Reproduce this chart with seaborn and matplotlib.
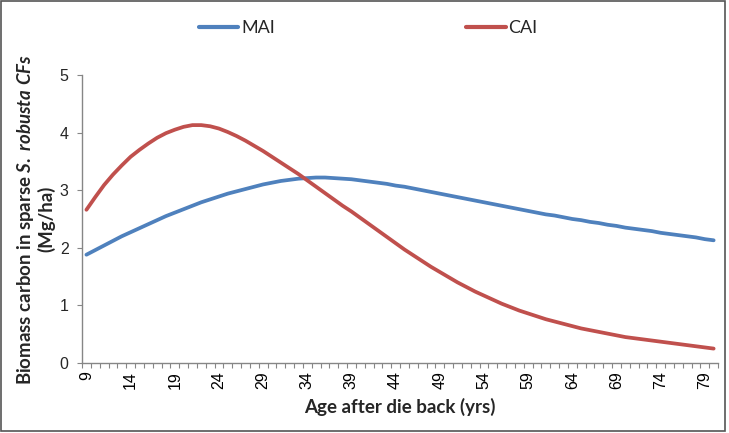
import seaborn as sns
import pandas as pd
import numpy as np
import matplotlib.pyplot as plt
from matplotlib.patches import Rectangle

# age after die back (yrs), one point per year
ages = list(range(9, 81))

mai = [1.88, 1.96, 2.04, 2.12, 2.20, 2.27, 2.34, 2.41, 2.48, 2.55,
       2.61, 2.67, 2.73, 2.79, 2.84, 2.89, 2.94, 2.98, 3.02, 3.06,
       3.10, 3.13, 3.16, 3.18, 3.20, 3.21, 3.22, 3.22, 3.21, 3.20,
       3.19, 3.17, 3.15, 3.13, 3.11, 3.08, 3.06, 3.03, 3.00, 2.97,
       2.94, 2.91, 2.88, 2.85, 2.82, 2.79, 2.76, 2.73, 2.70, 2.67,
       2.64, 2.61, 2.58, 2.56, 2.53, 2.50, 2.48, 2.45, 2.43, 2.40,
       2.38, 2.35, 2.33, 2.31, 2.29, 2.26, 2.24, 2.22, 2.20, 2.18,
       2.15, 2.13]

cai = [2.66, 2.88, 3.09, 3.27, 3.43, 3.58, 3.70, 3.81, 3.91, 3.99,
       4.05, 4.10, 4.13, 4.13, 4.11, 4.07, 4.01, 3.94, 3.86, 3.77,
       3.68, 3.58, 3.48, 3.38, 3.28, 3.17, 3.06, 2.95, 2.84, 2.73,
       2.63, 2.52, 2.41, 2.30, 2.19, 2.08, 1.97, 1.87, 1.77, 1.67,
       1.58, 1.49, 1.40, 1.32, 1.24, 1.17, 1.10, 1.03, 0.97, 0.91,
       0.86, 0.81, 0.76, 0.72, 0.68, 0.64, 0.60, 0.57, 0.54, 0.51,
       0.48, 0.45, 0.43, 0.41, 0.39, 0.37, 0.35, 0.33, 0.31, 0.29,
       0.27, 0.25]

series_names = ['MAI', 'CAI']
colors = {'MAI': '#4F81BD', 'CAI': '#C0504D'}
xtick_labels = list(range(9, 80, 5))

df = pd.concat([
    pd.DataFrame({'age': ages, 'value': mai, 'series': 'MAI'}),
    pd.DataFrame({'age': ages, 'value': cai, 'series': 'CAI'}),
])

sns.set_style('white')
plt.rcParams['font.family'] = ['Liberation Sans', 'DejaVu Sans']
plt.rcParams['mathtext.fontset'] = 'custom'
plt.rcParams['mathtext.it'] = 'Lato:bold:italic'
plt.rcParams['mathtext.rm'] = 'Lato:bold'

fig = plt.figure(figsize=(7.29, 4.33), dpi=100)
ax = fig.add_axes([0.1125, 0.1617, 0.985 - 0.1125, 0.8268 - 0.1617])

sns.lineplot(data=df, x='age', y='value', hue='series', hue_order=series_names,
             palette=colors, linewidth=2.7, ax=ax, legend=False)
for line in ax.get_lines():
    line.set_solid_joinstyle('round')
    line.set_solid_capstyle('round')

ax.set_xlim(8.5, 80.5)
ax.set_ylim(0, 5)
ax.set_yticks(range(0, 6))
ax.set_xticks(xtick_labels)
ax.set_xticklabels([str(x) for x in xtick_labels], rotation=90, fontsize=11.5)
ax.set_xticks(np.arange(8.5, 81, 1), minor=True)
ax.tick_params(axis='x', which='major', length=0, pad=6, colors='#000000')
ax.tick_params(axis='x', which='minor', length=3.5, width=0.8, color='#868686', direction='out', bottom=True)
ax.tick_params(axis='y', length=3.6, width=0.8, color='#868686', direction='out', left=True, labelsize=11.5, pad=6)

for s in ['top', 'right']:
    ax.spines[s].set_visible(False)
for s in ['left', 'bottom']:
    ax.spines[s].set_color('#868686')
    ax.spines[s].set_linewidth(1.0)

ax.set_xlabel('Age after die back (yrs)', fontsize=13.5, fontweight='bold', family='Lato', labelpad=6)
ax.set_ylabel('Biomass carbon in sparse $S.\\ robusta\\ CFs$\n(Mg/ha)', fontsize=13.4,
              fontweight='bold', family='Lato', labelpad=3, linespacing=1.1)

handles = [plt.Line2D([], [], color=colors[n], linewidth=3, solid_capstyle='round') for n in series_names]
fig.legend(handles, series_names, loc='center', bbox_to_anchor=(0.505, 0.935), ncol=2,
           frameon=False, handlelength=2.2, handletextpad=0.15,
           columnspacing=10.6, prop={'family': 'Lato', 'size': 13})

fig.patches.append(Rectangle((0.002, 0.005), 0.993, 0.992, transform=fig.transFigure,
                             fill=False, edgecolor='#555555', linewidth=1.2))

fig.savefig('out.png', dpi=100)
